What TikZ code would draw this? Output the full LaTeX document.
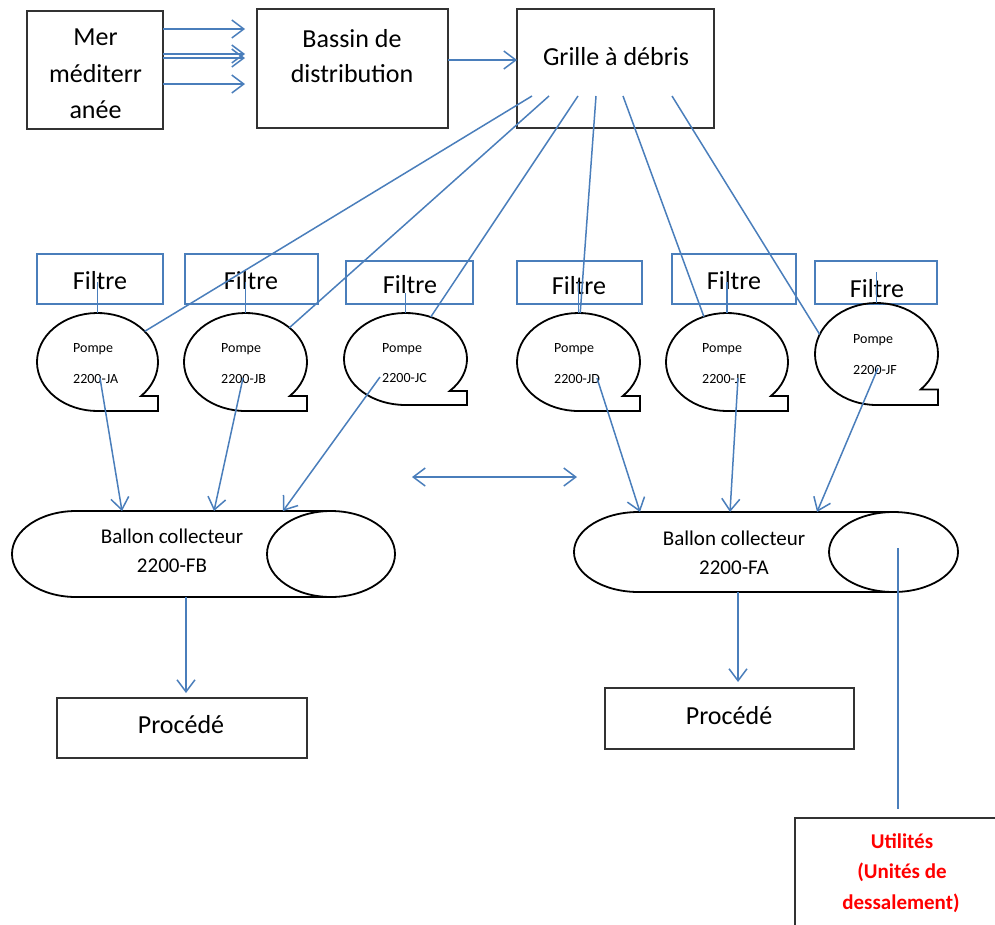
\documentclass[tikz,border=0pt]{standalone}
\usepackage{fontspec}
\setmainfont{Carlito}
\usetikzlibrary{arrows.meta,calc,shapes.geometric}

\definecolor{flowblue}{RGB}{74,126,187}
\definecolor{framegray}{RGB}{50,50,50}
\definecolor{utilred}{RGB}{255,0,0}

% Pump symbol: ellipse with a square tab at the lower right
% #1 name, #2 cx, #3 cy, #4 x radius, #5 y radius
\newcommand{\pumpunit}[5]{%
  \node[pumpbody, minimum width=2*#4, minimum height=2*#5] (#1) at (#2,#3) {};
  \draw[pumpline] (#1.center) ++(-44:#4pt and #5pt) coordinate (#1-tab)
    arc[start angle=-44, end angle=270, x radius=#4pt, y radius=#5pt]
    -- ++(#4pt,0pt) |- (#1-tab) -- cycle;
}

\tikzset{
  flow/.style={draw=flowblue, line width=1.5pt},
  flowarrow/.style={flow, -{Straight Barb[length=12pt,width=18pt]}},
  flowboth/.style={flow, {Straight Barb[length=12pt,width=18pt]}-{Straight Barb[length=12pt,width=18pt]}},
  blackbox/.style={rectangle, draw=framegray, line width=2.2pt, inner sep=0pt, outer sep=0pt},
  filterbox/.style={rectangle, draw=flowblue, line width=1.6pt, inner sep=0pt, outer sep=0pt},
  plainbox/.style={rectangle, inner sep=0pt, outer sep=0pt},
  pumpbody/.style={ellipse, inner sep=0pt, outer sep=0pt},
  pumpline/.style={draw=black, line width=1.8pt, line join=miter},
  vessel/.style={draw=black, line width=1.8pt},
  bigtext/.style={font=\fontsize{26}{31}\selectfont, inner sep=0pt, anchor=base, text=black},
  pumptext/.style={font=\fontsize{14}{17}\selectfont, inner sep=0pt, anchor=base west, text=black},
  vesseltext/.style={font=\fontsize{21}{25}\selectfont, inner sep=0pt, anchor=base, text=black},
  utiltext/.style={font=\bfseries\fontsize{21}{25}\selectfont, inner sep=0pt, anchor=base, text=utilred}
}

\begin{document}
\begin{tikzpicture}[x=1pt,y=-1pt]
\useasboundingbox (0,0) rectangle (995,924);
\clip (0,0) rectangle (995,924);

% ---- top row: sea, distribution basin, debris screen
\node[blackbox, minimum width=136, minimum height=118] (mer) at (95,70) {};
\node[bigtext] (mer1) at (95.5,45) {Mer};
\node[bigtext] (mer2) at (95.5,82) {méditerr};
\node[bigtext] (mer3) at (95.5,118) {anée};

\node[blackbox, minimum width=191, minimum height=119] (bassin) at (352.5,68.5) {};
\node[bigtext] (bassin1) at (352,47) {Bassin de};
\node[bigtext] (bassin2) at (352,82) {distribution};

\node[blackbox, minimum width=197, minimum height=119] (grille) at (615.5,68.5) {};
\node[bigtext] (grille1) at (616,65) {Grille à débris};

\draw[flowarrow] ($(mer.north east)+(0,18)$) -- ($(bassin.north west)+(-12,20)$);
\draw[flowarrow] ($(mer.north east)+(0,43)$) -- ($(bassin.north west)+(-12,45)$);
\draw[flowarrow] ($(mer.north east)+(0,47)$) -- ($(bassin.north west)+(-12,49)$);
\draw[flowarrow] ($(mer.north east)+(0,73)$) -- ($(bassin.north west)+(-12,75)$);
\draw[flowarrow] ($(bassin.north east)+(0,51)$) -- ($(grille.north west)+(0,51)$);

% ---- filters
\node[filterbox, minimum width=126, minimum height=50] (f1) at (100,279) {};
\node[filterbox, minimum width=133, minimum height=50] (f2) at (251.5,279) {};
\node[filterbox, minimum width=127, minimum height=43] (f3) at (409.5,282.5) {};
\node[filterbox, minimum width=125, minimum height=43] (f4) at (579.5,282.5) {};
\node[filterbox, minimum width=124, minimum height=50] (f5) at (734,279) {};
\node[filterbox, minimum width=122, minimum height=43] (f6) at (876,282.5) {};
\node[bigtext] (f1t) at (100,289) {Filtre};
\node[bigtext] (f2t) at (251,289) {Filtre};
\node[bigtext] (f3t) at (410,293) {Filtre};
\node[bigtext] (f4t) at (579,294) {Filtre};
\node[bigtext] (f5t) at (734,289) {Filtre};
\node[bigtext] (f6t) at (877,297) {Filtre};

% ---- pumps
\pumpunit{pA}{97.5}{362}{60.5}{49}
\pumpunit{pB}{245.5}{362}{61.5}{49}
\pumpunit{pC}{405.5}{359}{61.5}{46}
\pumpunit{pD}{578.5}{362}{61.5}{49}
\pumpunit{pE}{727}{362}{61}{49}
\pumpunit{pF}{876.5}{354}{61.5}{51}

\node[pumptext] (pA1) at (73,352) {Pompe};
\node[pumptext] (pA2) at (73,383) {2200-JA};
\node[pumptext] (pB1) at (221,352) {Pompe};
\node[pumptext] (pB2) at (221,383) {2200-JB};
\node[pumptext] (pC1) at (382,352) {Pompe};
\node[pumptext] (pC2) at (382,382) {2200-JC};
\node[pumptext] (pD1) at (554,352) {Pompe};
\node[pumptext] (pD2) at (554,383) {2200-JD};
\node[pumptext] (pE1) at (702,352) {Pompe};
\node[pumptext] (pE2) at (702,383) {2200-JE};
\node[pumptext] (pF1) at (853,343) {Pompe};
\node[pumptext] (pF2) at (853,374) {2200-JF};

% filter to pump
\draw[flow] (pA.north) -- ++(0,-31);
\draw[flow] (pB.north) -- ++(0,-31);
\draw[flow] (pC.north) -- ++(0,-20);
\draw[flow] (pD.north) -- ++(0,-31);
\draw[flow] (pE.north) -- ++(0,-31);
\draw[flow] (pF.north) -- ++(0,-31);

% screen to pumps
\coordinate (g1) at ($(grille.south west)+(15,-32)$);
\coordinate (g2) at ($(grille.south west)+(32,-32)$);
\coordinate (g3) at ($(grille.south west)+(61,-32)$);
\coordinate (g4) at ($(grille.south west)+(79,-32)$);
\coordinate (g5) at ($(grille.south west)+(106,-32)$);
\coordinate (g6) at ($(grille.south west)+(155,-32)$);
\draw[flow] (g1) -- (pA.33);
\draw[flow] (g2) -- (pB.38);
\draw[flow] (g3) -- (pC.59);
\draw[flow] (g4) -- (pD.88);
\draw[flow] (g5) -- (pE.117);
\draw[flow] (g6) -- (pF.161);

% ---- collecting vessels
\node[plainbox, minimum width=383, minimum height=86] (fb) at (203.5,554) {};
\draw[vessel] ($(fb.north east)+(-64,0)$) -- ($(fb.north west)+(64,0)$)
  arc[start angle=90, end angle=270, x radius=64pt, y radius=43pt]
  -- ($(fb.south east)+(-64,0)$);
\draw[vessel] ($(fb.east)+(-64,0)$) ellipse[x radius=64pt, y radius=43pt];
\node[vesseltext] (fb1) at (172,543) {Ballon collecteur};
\node[vesseltext] (fb2) at (172,572) {2200-FB};

\node[plainbox, minimum width=384, minimum height=80] (fa) at (766,552) {};
\draw[vessel] ($(fa.north east)+(-64.5,0)$) -- ($(fa.north west)+(64.5,0)$)
  arc[start angle=90, end angle=270, x radius=64.5pt, y radius=40pt]
  -- ($(fa.south east)+(-64.5,0)$);
\draw[vessel] ($(fa.east)+(-64.5,0)$) ellipse[x radius=64.5pt, y radius=40pt];
\node[vesseltext] (fa1) at (734,545) {Ballon collecteur};
\node[vesseltext] (fa2) at (734,574) {2200-FA};

% pumps to vessels
\draw[flowarrow] ($(pA.center)+(2.5,16)$) -- ($(fb.north west)+(110,0)$);
\draw[flowarrow] ($(pB.center)+(-2.5,16)$) -- ($(fb.north west)+(202,0)$);
\draw[flowarrow] ($(pC.center)+(-25.5,18)$) -- ($(fb.north west)+(271,0)$);
\draw[flowarrow] ($(pD.center)+(18.5,16)$) -- ($(fa.north west)+(66,0)$);
\draw[flowarrow] ($(pE.center)+(11,16)$) -- ($(fa.north west)+(156,0)$);
\draw[flowarrow] ($(pF.center)+(1.5,14)$) -- ($(fa.north west)+(243,0)$);

% exchange between the two vessels
\coordinate (xl) at (412,477);
\coordinate (xr) at (577,477);
\draw[flowboth] (xl) -- (xr);

% ---- consumers
\node[blackbox, minimum width=250, minimum height=60] (proc1) at (182,728) {};
\node[bigtext] (proc1t) at (181,733) {Procédé};
\node[blackbox, minimum width=249, minimum height=61] (proc2) at (729.5,718.5) {};
\node[bigtext] (proc2t) at (729,724) {Procédé};

\draw[flowarrow] ($(fb.south west)+(174,0)$) -- ($(proc1.north west)+(129,-5)$);
\draw[flowarrow] ($(fa.south west)+(164,0)$) -- ($(proc2.north west)+(133,-6)$);

\node[blackbox, minimum width=203, minimum height=110] (util) at (896.5,873) {};
\node[utiltext] (util1) at (902,848) {Utilités};
\node[utiltext] (util2) at (902,878) {(Unités de};
\node[utiltext] (util3) at (901,909) {dessalement)};
\draw[flow] ($(fa.east)+(-60,-4)$) -- ($(util.north west)+(103,-9)$);

\end{tikzpicture}
\end{document}
